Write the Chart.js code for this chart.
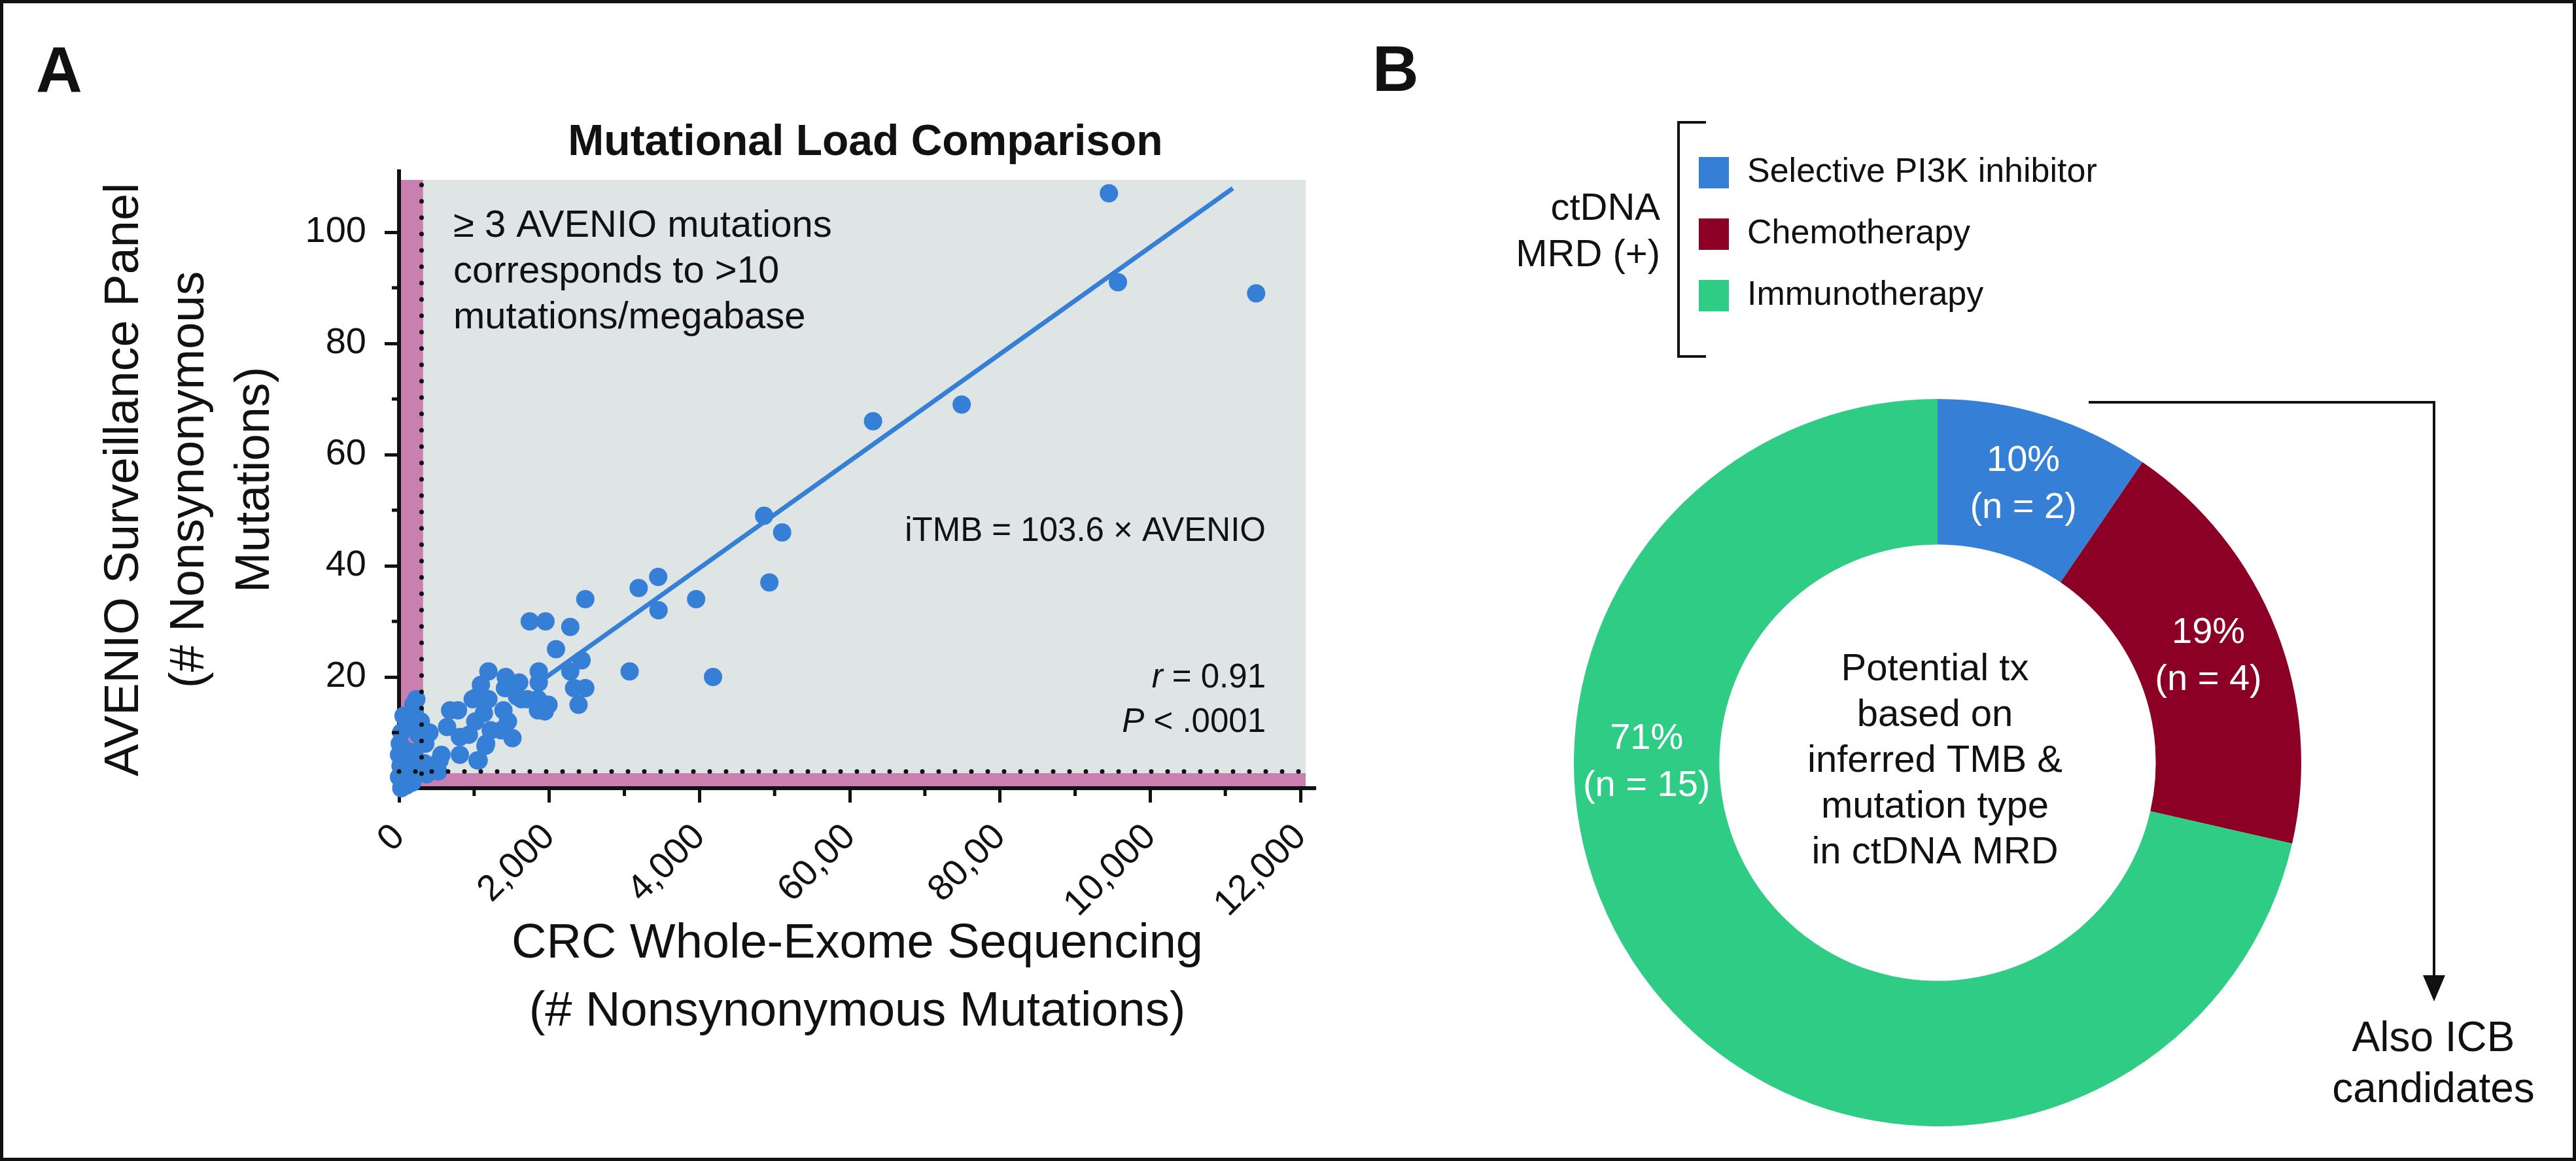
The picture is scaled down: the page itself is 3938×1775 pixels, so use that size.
<!DOCTYPE html>
<html>
<head>
<meta charset="utf-8">
<script src="https://cdn.jsdelivr.net/npm/chart.js@4.4.1/dist/chart.umd.min.js"></script>
<style>
  html, body { margin: 0; padding: 0; background: #fff; }
  #page { position: relative; width: 3938px; height: 1775px; overflow: hidden; background: #fff; }
  #frame { position: absolute; left: 0; top: 0; width: 3938px; height: 1775px; box-sizing: border-box; border: 5px solid #111; pointer-events: none; }
  canvas { position: absolute; top: 0; }
  #scatter { left: 0; }
  #donut { left: 2080px; }
</style>
</head>
<body>
<div id="page">
  <canvas id="scatter" width="2080" height="1775"></canvas>
  <canvas id="donut" width="1850" height="1775"></canvas>
  <div id="frame"></div>
</div>
<script>
// panel A: WES vs AVENIO mutation counts
var wesMutations = [
  9450, 9570, 11410, 7490, 6310, 4860, 5100, 4930, 3450, 3190, 3455, 3955, 2480, 3070, 4180,
  1740, 1950, 2280, 2090, 2430, 2280, 1860, 2330, 2480, 2390, 1860, 1850, 1970, 1850,
  1190, 1090, 1020, 1130, 1190, 1420, 1600, 1480, 1570, 1710, 1390, 1450, 1510, 1360, 1220,
  1150, 1045, 930, 1015, 810, 810, 785, 680, 640, 565, 540, 1890, 1990, 1940, 1410, 1630, 1160, 1060, 980,
  230, 190, 145, 290, 405, 30, 350, 70, 0, 335, 365, 145, 0, 30, 175, 115, 205, 260, 115, 60,
  20, 60, 100, 10, 440, 520, 210, 90
];
var avenioMutations = [
  107, 91, 89, 69, 66, 49, 46, 37, 38, 36, 32, 34, 34, 21, 20,
  30, 30, 29, 25, 23, 21, 21, 18, 18, 15, 19, 16, 15, 14,
  21, 18.6, 16.3, 13.5, 16, 20, 19, 18, 16.5, 16, 14, 12, 9, 10.4, 10.4,
  7.6, 5, 9.6, 12, 6, 9.2, 14, 14, 11, 6, 5, 14.3, 15, 13.8, 18, 16, 8, 5, 16,
  16, 15, 12.7, 12, 10, 10, 8, 7, 6, 4.5, 2.5, 2.5, 2, 0, 1, 4.5, 6.5, 9.6, 11, 13,
  4, 1, 0.5, 8, 3.5, 3, 14, 12.5
];
var fitLineX = [1900, 11100];
var fitLineY = [19.4, 107.9];
var xTickValues = [0, 2000, 4000, 6000, 8000, 10000, 12000];
var xTickLabels = ["0", "2,000", "4,000", "60,00", "80,00", "10,000", "12,000"];
var yTickValues = [20, 40, 60, 80, 100];

// panel B: potential treatment in ctDNA MRD(+)
var txCategories = ["Selective PI3K inhibitor", "Chemotherapy", "Immunotherapy"];
var txCounts = [2, 4, 15];
var txColors = ["#3580d6", "#8b0024", "#2ecc85"];

var FONT = "'Liberation Sans', Arial, sans-serif";
var INK = "#111";
var BLUE = "#3580d6";

Chart.defaults.font.family = FONT;
Chart.defaults.color = INK;

var scatterPoints = wesMutations.map(function (x, i) { return { x: x, y: avenioMutations[i] }; });
var fitPoints = fitLineX.map(function (x, i) { return { x: x, y: fitLineY[i] }; });

var panelA = {
  id: 'panelA',
  beforeDraw: function (chart) {
    var ctx = chart.ctx, a = chart.chartArea, x = chart.scales.x, y = chart.scales.y;
    var top = y.getPixelForValue(109.4), right = x.getPixelForValue(12070);
    ctx.save();
    ctx.fillStyle = '#dfe4e4';
    ctx.fillRect(a.left, top, right - a.left, a.bottom - top);
    ctx.fillStyle = '#c980b0';
    ctx.fillRect(a.left, top, x.getPixelForValue(320) - a.left, a.bottom - top);
    var pinkTop = y.getPixelForValue(2.7);
    ctx.fillRect(a.left, pinkTop, right - a.left, a.bottom - pinkTop);
    ctx.restore();
  },
  afterDatasetsDraw: function (chart) {
    var ctx = chart.ctx, a = chart.chartArea, x = chart.scales.x, y = chart.scales.y;
    ctx.save();
    ctx.strokeStyle = INK;
    ctx.lineWidth = 7;
    ctx.lineCap = 'round';
    ctx.setLineDash([0, 25]);
    // threshold lines: 3 AVENIO mutations / 300 WES mutations
    var vx = x.getPixelForValue(300);
    ctx.beginPath();
    ctx.moveTo(vx, y.getPixelForValue(108.5));
    ctx.lineTo(vx, a.bottom - 15);
    ctx.stroke();
    var hy = y.getPixelForValue(3);
    ctx.beginPath();
    ctx.moveTo(a.left, hy);
    ctx.lineTo(x.getPixelForValue(12070), hy);
    ctx.stroke();
    ctx.restore();
  },
  afterDraw: function (chart) {
    var ctx = chart.ctx, a = chart.chartArea, x = chart.scales.x, y = chart.scales.y;
    ctx.save();
    // minor ticks
    ctx.strokeStyle = INK;
    ctx.lineWidth = 5;
    [10, 30, 50, 70, 90].forEach(function (v) {
      var py = y.getPixelForValue(v);
      ctx.beginPath(); ctx.moveTo(a.left, py); ctx.lineTo(a.left - 11, py); ctx.stroke();
    });
    [1000, 3000, 5000, 7000, 9000, 11000].forEach(function (v) {
      var px = x.getPixelForValue(v);
      ctx.beginPath(); ctx.moveTo(px, a.bottom); ctx.lineTo(px, a.bottom + 12); ctx.stroke();
    });

    ctx.fillStyle = INK;
    ctx.textBaseline = 'alphabetic';
    ctx.textAlign = 'left';
    ctx.font = 'bold 98px ' + FONT;
    ctx.fillText('A', 55, 140);

    ctx.textAlign = 'center';
    ctx.font = 'bold 66px ' + FONT;
    ctx.fillText('Mutational Load Comparison', 1323, 237);

    ctx.textBaseline = 'middle';
    ctx.textAlign = 'left';
    ctx.font = '58px ' + FONT;
    ['\u2265 3 AVENIO mutations', 'corresponds to >10', 'mutations/megabase'].forEach(function (t, i) {
      ctx.fillText(t, 693, 346 + i * 70);
    });

    ctx.textAlign = 'right';
    ctx.font = '51px ' + FONT;
    ctx.fillText('iTMB = 103.6 \u00d7 AVENIO', 1935, 813);

    var rest1 = ' = 0.91', rest2 = ' < .0001';
    ctx.fillText(rest1, 1935, 1037);
    ctx.fillText(rest2, 1935, 1105);
    var w1 = ctx.measureText(rest1).width, w2 = ctx.measureText(rest2).width;
    ctx.font = 'italic 51px ' + FONT;
    ctx.fillText('r', 1935 - w1, 1037);
    ctx.fillText('P', 1935 - w2, 1105);
    ctx.restore();
  }
};

new Chart(document.getElementById('scatter'), {
  type: 'scatter',
  data: {
    datasets: [{
      data: scatterPoints,
      backgroundColor: BLUE,
      borderWidth: 0,
      pointRadius: 14,
      pointHoverRadius: 14,
      clip: false
    }, {
      type: 'line',
      data: fitPoints,
      borderColor: BLUE,
      borderWidth: 7,
      pointRadius: 0,
      fill: false
    }]
  },
  options: {
    responsive: false,
    animation: false,
    devicePixelRatio: 1,
    layout: { padding: { top: 261.5, right: 69, bottom: 0, left: 0 } },
    plugins: { legend: { display: false }, tooltip: { enabled: false } },
    scales: {
      x: {
        type: 'linear',
        min: 0,
        max: 12200,
        afterBuildTicks: function (s) { s.ticks = xTickValues.map(function (v) { return { value: v }; }); },
        afterFit: function (s) { s.height = 570; },
        ticks: {
          autoSkip: false,
          minRotation: 45,
          maxRotation: 45,
          padding: 20,
          font: { size: 56 },
          color: INK,
          callback: function (v, i) { return xTickLabels[i]; }
        },
        grid: { drawOnChartArea: false, drawTicks: true, tickLength: 22, tickWidth: 5, tickColor: INK, color: INK },
        border: { display: true, color: INK, width: 6 },
        title: {
          display: true,
          text: ['CRC Whole-Exome Sequencing', '(# Nonsynonymous Mutations)'],
          font: { size: 74, lineHeight: 1.4 },
          color: INK,
          padding: { top: 0, bottom: 176 }
        }
      },
      y: {
        type: 'linear',
        min: 0,
        max: 111,
        afterBuildTicks: function (s) { s.ticks = yTickValues.map(function (v) { return { value: v }; }); },
        afterFit: function (s) { s.width = 610; },
        ticks: { padding: 28, font: { size: 56 }, color: INK },
        grid: { drawOnChartArea: false, drawTicks: true, tickLength: 22, tickWidth: 5, tickColor: INK, color: INK },
        border: { display: true, color: INK, width: 6 },
        title: {
          display: true,
          text: ['AVENIO Surveillance Panel', '(# Nonsynonymous', 'Mutations)'],
          font: { size: 74, lineHeight: 1.35 },
          color: INK,
          padding: { top: 141, bottom: 0 }
        }
      }
    }
  },
  plugins: [panelA]
});

var panelB = {
  id: 'panelB',
  afterDraw: function (chart) {
    var ctx = chart.ctx;
    var ox = chart.canvas.offsetLeft;
    var arcs = chart.getDatasetMeta(0).data;
    var counts = chart.data.datasets[0].data;
    var colors = chart.data.datasets[0].backgroundColor;
    var total = counts.reduce(function (s, v) { return s + v; }, 0);
    ctx.save();

    ctx.fillStyle = INK;
    ctx.textBaseline = 'alphabetic';
    ctx.textAlign = 'left';
    ctx.font = 'bold 98px ' + FONT;
    ctx.fillText('B', 2098 - ox, 139);

    // legend with bracket
    ctx.strokeStyle = INK;
    ctx.lineWidth = 4;
    ctx.beginPath();
    ctx.moveTo(2608 - ox, 187);
    ctx.lineTo(2566 - ox, 187);
    ctx.lineTo(2566 - ox, 545);
    ctx.lineTo(2608 - ox, 545);
    ctx.stroke();

    ctx.textBaseline = 'middle';
    ctx.textAlign = 'right';
    ctx.font = '58px ' + FONT;
    ctx.fillText('ctDNA', 2538 - ox, 320);
    ctx.fillText('MRD (+)', 2538 - ox, 391);

    ctx.textAlign = 'left';
    ctx.font = '52px ' + FONT;
    chart.data.labels.forEach(function (lab, i) {
      ctx.fillStyle = colors[i];
      ctx.fillRect(2597 - ox, 240 + i * 94, 46, 48);
      ctx.fillStyle = INK;
      ctx.fillText(lab, 2671 - ox, 264 + i * 94);
    });

    // slice labels
    ctx.fillStyle = '#fff';
    ctx.textAlign = 'center';
    ctx.font = '56px ' + FONT;
    arcs.forEach(function (arc, i) {
      var r = (arc.innerRadius + arc.outerRadius) / 2;
      var ang = i === counts.length - 1 ? Math.PI : (arc.startAngle + arc.endAngle) / 2;
      var lx = arc.x + Math.cos(ang) * r, ly = arc.y + Math.sin(ang) * r;
      ctx.fillText(Math.round(counts[i] / total * 100) + '%', lx, ly - 36);
      ctx.fillText('(n = ' + counts[i] + ')', lx, ly + 36);
    });

    // centre text
    var cx = arcs[0].x, cy = arcs[0].y;
    ctx.fillStyle = INK;
    ctx.font = '58px ' + FONT;
    ['Potential tx', 'based on', 'inferred TMB &', 'mutation type', 'in ctDNA MRD'].forEach(function (t, i) {
      ctx.fillText(t, cx - 4, cy - 142 + i * 70);
    });

    // arrow to ICB note
    ctx.strokeStyle = INK;
    ctx.lineWidth = 4;
    ctx.beginPath();
    ctx.moveTo(3193 - ox, 615);
    ctx.lineTo(3721 - ox, 615);
    ctx.lineTo(3721 - ox, 1500);
    ctx.stroke();
    ctx.beginPath();
    ctx.moveTo(3704 - ox, 1491);
    ctx.lineTo(3738 - ox, 1491);
    ctx.lineTo(3721 - ox, 1531);
    ctx.closePath();
    ctx.fill();

    ctx.font = '64px ' + FONT;
    ctx.fillText('Also ICB', 3720 - ox, 1589);
    ctx.fillText('candidates', 3720 - ox, 1667);
    ctx.restore();
  }
};

new Chart(document.getElementById('donut'), {
  type: 'doughnut',
  data: {
    labels: txCategories,
    datasets: [{
      data: txCounts,
      backgroundColor: txColors,
      borderWidth: 0
    }]
  },
  options: {
    responsive: false,
    animation: false,
    devicePixelRatio: 1,
    cutout: '60%',
    layout: { padding: { left: 326, right: 412, top: 610, bottom: 53 } },
    plugins: { legend: { display: false }, tooltip: { enabled: false } }
  },
  plugins: [panelB]
});
</script>
</body>
</html>
